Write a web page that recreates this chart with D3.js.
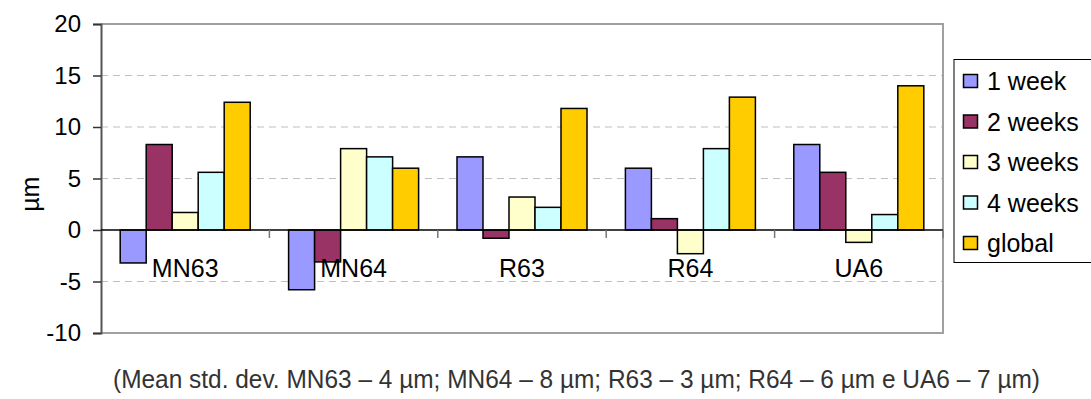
<!DOCTYPE html>
<html>
<head>
<meta charset="utf-8">
<script src="https://cdn.jsdelivr.net/npm/d3@7"></script>
<style>
  html, body { margin: 0; padding: 0; background: #fff; }
  svg { display: block; }
</style>
</head>
<body>
<svg id="chart" width="1091" height="399"></svg>
<script>
// Sample groups and measurement periods
const categories = ["MN63", "MN64", "R63", "R64", "UA6"];
const seriesNames = ["1 week", "2 weeks", "3 weeks", "4 weeks", "global"];
const seriesColors = ["#9999FF", "#993366", "#FFFFCC", "#CCFFFF", "#FFCC00"];

// Values in µm, one array per period, ordered as categories
const week1 = [-3.2, -5.8, 7.1, 6.0, 8.3];
const week2 = [8.3, -3.1, -0.8, 1.1, 5.6];
const week3 = [1.7, 7.9, 3.2, -2.3, -1.2];
const week4 = [5.6, 7.1, 2.2, 7.9, 1.5];
const globalVals = [12.4, 6.0, 11.8, 12.9, 14.0];
const seriesValues = [week1, week2, week3, week4, globalVals];

const yTicks = [-10, -5, 0, 5, 10, 15, 20];
const caption = "(Mean std. dev. MN63 \u2013 4 \u00b5m; MN64 \u2013 8 \u00b5m; R63 \u2013 3 \u00b5m; R64 \u2013 6 \u00b5m e UA6 \u2013 7 \u00b5m)";

const svg = d3.select("#chart");
const font = "Liberation Sans, Arial, sans-serif";

const plot = { left: 101, right: 943, top: 24, bottom: 333 };

const y = d3.scaleLinear().domain([-10, 20]).range([plot.bottom, plot.top]);
const x0 = d3.scaleBand().domain(categories).range([plot.left, plot.right])
  .paddingInner(0.228).paddingOuter(0.114);
const x1 = d3.scaleBand().domain(seriesNames).range([0, x0.bandwidth()]).padding(0);
const catStep = (plot.right - plot.left) / categories.length;

// Dashed horizontal gridlines
svg.append("g")
  .selectAll("line")
  .data(yTicks.filter(t => t !== 0 && t !== -10 && t !== 20))
  .join("line")
  .attr("x1", plot.left).attr("x2", plot.right)
  .attr("y1", d => y(d)).attr("y2", d => y(d))
  .attr("stroke", "#c0c0c0").attr("stroke-width", 1.2)
  .attr("stroke-dasharray", "7,5");

// Plot frame (top, right, bottom)
svg.append("path")
  .attr("d", `M${plot.left},${plot.top}H${plot.right}V${plot.bottom}H${plot.left}`)
  .attr("fill", "none").attr("stroke", "#a0a0a0").attr("stroke-width", 2);

// Bars
const rows = categories.map((c, i) => ({ cat: c, vals: seriesNames.map((s, j) => ({ s, v: seriesValues[j][i], j })) }));
svg.append("g")
  .selectAll("g")
  .data(rows)
  .join("g")
  .attr("transform", d => `translate(${x0(d.cat)},0)`)
  .selectAll("rect")
  .data(d => d.vals)
  .join("rect")
  .attr("x", d => x1(d.s))
  .attr("width", x1.bandwidth())
  .attr("y", d => y(Math.max(0, d.v)))
  .attr("height", d => Math.abs(y(d.v) - y(0)))
  .attr("fill", d => seriesColors[d.j])
  .attr("stroke", "#000").attr("stroke-width", 1.5);

// Y axis (plain hyphen for negatives)
const yAxis = d3.axisLeft(y).tickValues(yTicks).tickSize(8).tickPadding(12)
  .tickFormat(d => String(d));
const yg = svg.append("g").attr("transform", `translate(${plot.left},0)`).call(yAxis);
yg.select(".domain").attr("stroke", "#555").attr("stroke-width", 2);
yg.selectAll(".tick line").attr("stroke", "#333").attr("stroke-width", 1.5);
yg.selectAll(".tick text").attr("font-family", font).attr("font-size", 24).attr("fill", "#000");

// Zero line with category separators
const xg = svg.append("g");
xg.append("line")
  .attr("x1", plot.left).attr("x2", plot.right)
  .attr("y1", y(0)).attr("y2", y(0))
  .attr("stroke", "#000").attr("stroke-width", 1.5);
xg.selectAll("line.sep")
  .data(d3.range(1, categories.length + 1))
  .join("line").attr("class", "sep")
  .attr("x1", i => plot.left + i * catStep).attr("x2", i => plot.left + i * catStep)
  .attr("y1", y(0)).attr("y2", y(0) + 8)
  .attr("stroke", "#777").attr("stroke-width", 1.5);

// Category labels
xg.selectAll("text")
  .data(categories)
  .join("text")
  .attr("x", d => x0(d) + x0.bandwidth() / 2)
  .attr("y", y(0) + 47)
  .attr("text-anchor", "middle")
  .attr("font-family", font).attr("font-size", 25)
  .attr("fill", "#000")
  .text(d => d);

// Y axis title
svg.append("text")
  .attr("transform", `translate(39,${(y(5) + y(0)) / 2 - 10}) rotate(-90)`)
  .attr("text-anchor", "middle")
  .attr("font-family", font).attr("font-size", 25)
  .text("\u00b5m");

// Legend
const lg = svg.append("g");
lg.append("rect")
  .attr("x", 954).attr("y", 59.5).attr("width", 160).attr("height", 203)
  .attr("fill", "#fff").attr("stroke", "#000").attr("stroke-width", 1);
const item = lg.selectAll("g.item")
  .data(seriesNames)
  .join("g").attr("class", "item")
  .attr("transform", (d, i) => `translate(0,${81 + i * 40.5})`);
item.append("rect")
  .attr("x", 963.5).attr("y", -6.5).attr("width", 14).attr("height", 13)
  .attr("fill", (d, i) => seriesColors[i])
  .attr("stroke", "#000").attr("stroke-width", 1.5);
item.append("text")
  .attr("x", 987).attr("y", 9)
  .attr("font-family", font).attr("font-size", 25)
  .text(d => d);

// Caption beneath the chart, condensed to its line width
svg.append("text")
  .attr("x", 113).attr("y", 388)
  .attr("font-family", "Liberation Sans Narrow, Arial Narrow, sans-serif")
  .attr("font-size", 25)
  .attr("textLength", 927)
  .attr("lengthAdjust", "spacingAndGlyphs")
  .attr("fill", "#333")
  .text(caption);
</script>
</body>
</html>
